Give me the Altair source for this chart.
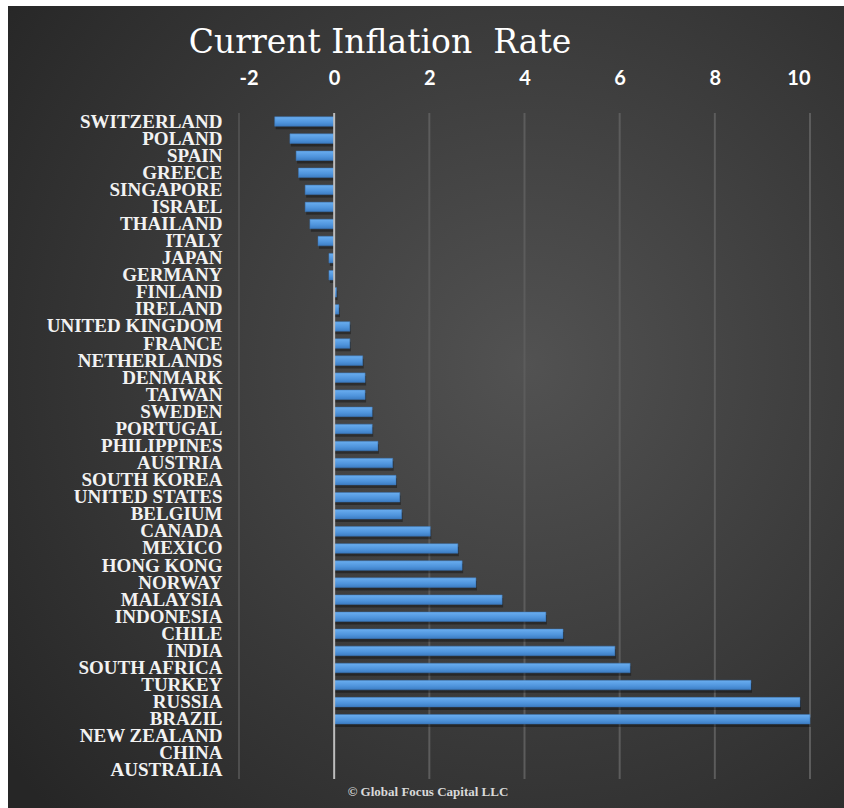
import altair as alt
import pandas as pd

countries = ["SWITZERLAND", "POLAND", "SPAIN", "GREECE", "SINGAPORE", "ISRAEL",
             "THAILAND", "ITALY", "JAPAN", "GERMANY", "FINLAND", "IRELAND",
             "UNITED KINGDOM", "FRANCE", "NETHERLANDS", "DENMARK", "TAIWAN",
             "SWEDEN", "PORTUGAL", "PHILIPPINES", "AUSTRIA", "SOUTH KOREA",
             "UNITED STATES", "BELGIUM", "CANADA", "MEXICO", "HONG KONG",
             "NORWAY", "MALAYSIA", "INDONESIA", "CHILE", "INDIA",
             "SOUTH AFRICA", "TURKEY", "RUSSIA", "BRAZIL", "NEW ZEALAND",
             "CHINA", "AUSTRALIA"]
rates = [-1.25, -0.93, -0.80, -0.75, -0.61, -0.61,
         -0.51, -0.34, -0.11, -0.11, 0.05, 0.10,
         0.33, 0.33, 0.60, 0.65, 0.65,
         0.80, 0.80, 0.92, 1.23, 1.30,
         1.38, 1.42, 2.02, 2.60, 2.69,
         2.98, 3.53, 4.45, 4.81, 5.90,
         6.22, 8.76, 9.79, 10.0, None,
         None, None]
tick_values = [-2, 0, 2, 4, 6, 8, 10]
grid_values = [2, 4, 6, 8, 10]
title_text = ["Current Inflation\u00a0 Rate"]
footer_text = ["\u00a9 Global Focus Capital LLC"]

W, H = 571, 666
PAD = {"left": 239, "top": 113, "right": 34, "bottom": 29}

df = pd.DataFrame({"country": countries, "rate": rates})
one = pd.DataFrame({"k": [1]})

xscale = alt.Scale(domain=[-2, 10], nice=False, zero=False)
yscale = alt.Scale(domain=countries, paddingInner=0.44, paddingOuter=0.22)

bg = alt.Chart(one).mark_rect(
    fill=alt.RadialGradient(
        gradient="radial", x1=0.62, y1=0.45, r1=0.0, x2=0.62, y2=0.45, r2=0.78,
        stops=[alt.GradientStop(offset=0, color="#525252"),
               alt.GradientStop(offset=1, color="#262626")]),
).encode(
    x=alt.value(-PAD["left"] + 8), x2=alt.value(W + PAD["right"]),
    y=alt.value(-PAD["top"] + 6), y2=alt.value(H + PAD["bottom"]),
)

grid = alt.Chart(pd.DataFrame({"v": grid_values})).mark_rule(
    color="#5c5c5c", strokeWidth=2
).encode(x=alt.X("v:Q", scale=xscale), y=alt.value(0), y2=alt.value(H))

axis_line = alt.Chart(pd.DataFrame({"v": [-2]})).mark_rule(
    color="#4e4e4e", strokeWidth=2
).encode(x=alt.X("v:Q", scale=xscale), y=alt.value(0), y2=alt.value(H))

shadow = alt.Chart(df).mark_bar(color="black", opacity=0.35, yOffset=3, xOffset=1).encode(
    x=alt.X("rate:Q", scale=xscale),
    x2=alt.datum(0),
    y=alt.Y("country:N", scale=yscale, sort=countries),
)

bars = alt.Chart(df).mark_bar(
    fill=alt.LinearGradient(
        gradient="linear", x1=0, y1=0, x2=0, y2=1,
        stops=[alt.GradientStop(offset=0, color="#6aaef0"),
               alt.GradientStop(offset=0.6, color="#4f94dc"),
               alt.GradientStop(offset=1, color="#3c7cc2")]),
    stroke="#3a74b4", strokeWidth=0.5,
).encode(
    x=alt.X("rate:Q", scale=xscale,
            axis=alt.Axis(orient="top", values=tick_values, grid=False, domain=False,
                          ticks=False, tickSize=0, labelPadding=25,
                          labelExpr="'' + datum.value",
                          labelFont="Lato", labelFontWeight="bold", labelFontSize=20,
                          labelColor="#ffffff", title=None, zindex=1)),
    x2=alt.datum(0),
    y=alt.Y("country:N", scale=yscale, sort=countries,
            axis=alt.Axis(grid=False, domain=False, ticks=False, tickSize=0,
                          labelPadding=17, labelFont="Liberation Serif",
                          labelFontWeight="bold", labelFontSize=19,
                          labelColor="#f2f2f2", labelLimit=400, title=None,
                          zindex=1)),
)

zero = alt.Chart(pd.DataFrame({"v": [0]})).mark_rule(
    color="#bdbdbd", strokeWidth=2
).encode(x=alt.X("v:Q", scale=xscale), y=alt.value(0), y2=alt.value(H))

title = alt.Chart(pd.DataFrame({"t": title_text})).mark_text(
    font="DejaVu Serif", fontSize=33, color="#ffffff", align="center",
    baseline="alphabetic"
).encode(text="t:N", x=alt.value(380 - PAD["left"]), y=alt.value(53 - PAD["top"]))

footer = alt.Chart(pd.DataFrame({"t": footer_text})).mark_text(
    font="Liberation Serif", fontWeight="bold", fontSize=13, color="#d9d9d9",
    align="center", baseline="middle"
).encode(text="t:N", x=alt.value(428 - PAD["left"]), y=alt.value(792 - PAD["top"]))

chart = alt.layer(bg, grid, axis_line, shadow, bars, zero, title, footer).properties(
    width=W, height=H,
    autosize=alt.AutoSizeParams(type="none"),
    padding=PAD,
    background="#ffffff",
).configure_view(stroke=None)

chart.save("out.html", embed_options={"renderer": "svg", "actions": False})
